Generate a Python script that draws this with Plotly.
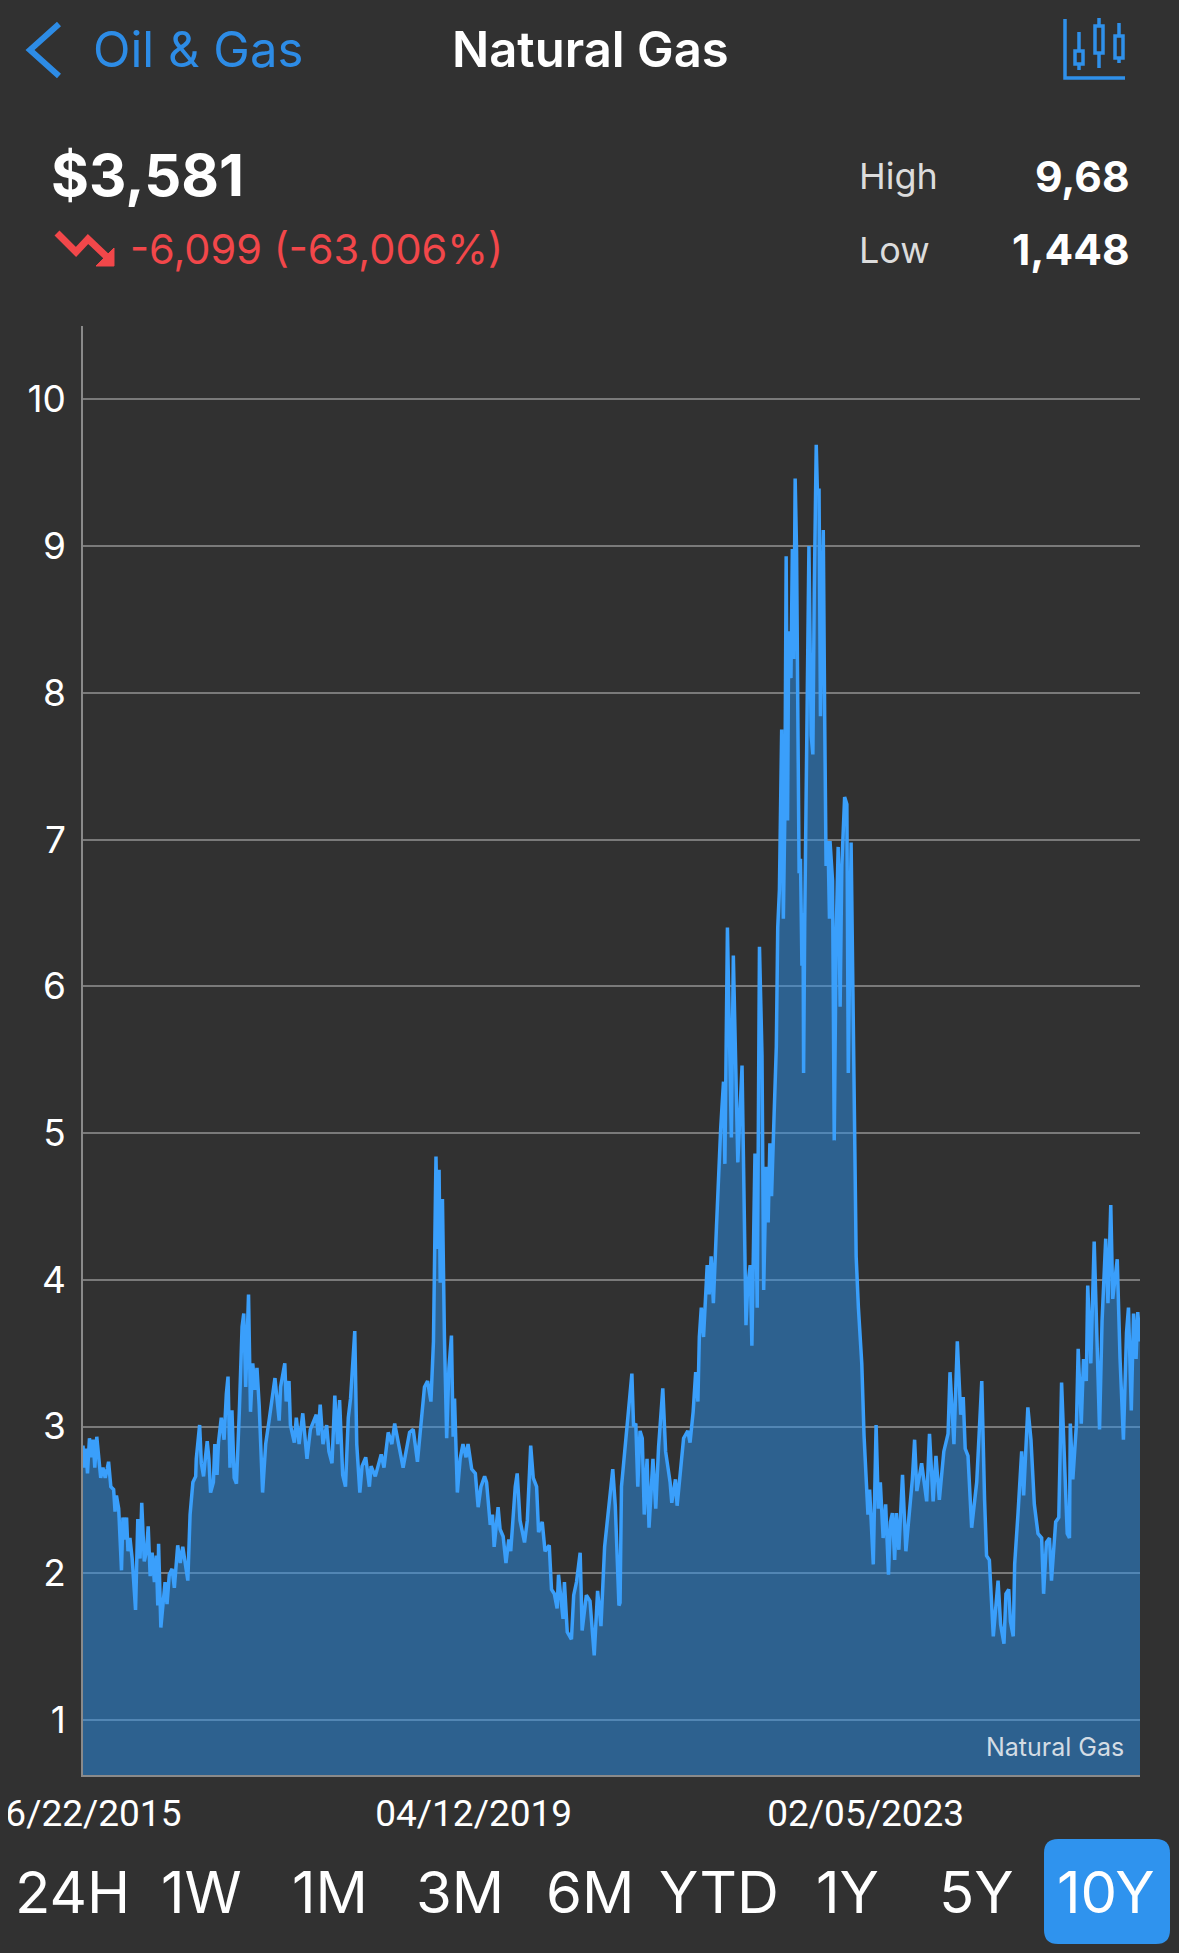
import datetime as dt
import plotly.graph_objects as go

START = dt.date(2015, 6, 22)
END_DAY = 3761

# Days since START and the price read at that day
days = [0,5,10,16,23,29,36,42,49,56,63,71,79,86,91,99,109,114,119,127,137,142,147,155,160,167,175,187,195,203,209,218,226,232,239,246,254,261,266,269,277,292,299,307,317,325,337,346,355,373,381,391,401,403,415,421,429,434,442,448,454,464,469,477,482,492,502,510,516,523,530,538,546,556,566,572,579,589,596,604,612,619,627,639,650,662,683,698,703,718,723,733,738,752,759,769,782,797,809,830,837,844,854,867,875,886,896,906,913,924,934,944,952,967,974,985,993,1006,1019,1025,1040,1061,1071,1086,1099,1109,1122,1139,1162,1175,1190,1205,1215,1226,1238,1247,1256,1261,1267,1271,1279,1286,1294,1302,1311,1317,1322,1332,1342,1352,1363,1370,1383,1396,1406,1416,1429,1436,1449,1457,1463,1477,1484,1495,1505,1515,1522,1538,1545,1555,1571,1581,1593,1602,1614,1621,1634,1644,1659,1667,1677,1687,1692,1708,1713,1723,1738,1746,1756,1769,1776,1791,1804,1819,1831,1843,1856,1885,1894,1907,
        1911,1916,1929,1939,1953,1959,1967,1974,1982,1990,1997,2007,2014,2028,2038,2048,2063,2073,2089,2095,2108,2114,2127,2137,2152,2160,2171,2180,2188,2193,2200,2208,2221,2228,2235,2243,2254,2261,2269,2279,2284,2293,2307,2314,2325,2330,2345,2353,2359,2365,2374,2380,2391,2399,2407,2416,2422,2431,2438,2444,2450,2459,2467,2472,2478,2486,2492,2497,2502,2507,2511,2519,2524,2529,2534,2539,2544,2548,2553,2558,2562,2564,2568,2573,2583,2591,2597,2602,2609,2613,2619,2624,2634,2639,2644,2651,2656,2658,2667,2673,2680,2687,2694,2700,2710,2718,2723,2733,2739,2742,2745,2748,2751,2759,2764,2771,2779,2786,2793,2799,2812,2822,2830,2837,2847,2856,2866,2873,2880,2888,2894,2903,2916,2928,2945,2951,2959,2967,2984,3002,3012,3025,3035,3047,3063,3078,3085,3099,3111,3123,3132,3139,3149,3162,3180,3198,3208,3215,3225,3239,3256,3265,3277,3284,3294,3300,3310,3315,3327,3340,3347,3362,3373,3385,3398,3411,3418,3428,3439,3446,3461,3472,3482,3494,3502,3510,3513,3522,3535,3541,3552,3560,3570,3575,3586,3598,3607,3617,3626,3639,3647,3657,3664,3680,3690,3702,3713,3720,3730,3738,3747,3753,3761]
prices = [2.87,2.72,2.85,2.68,2.92,2.79,2.91,2.72,2.93,2.75,2.65,2.72,2.65,2.71,2.76,2.59,2.57,2.42,2.53,2.44,2.02,2.38,2.23,2.38,2.15,2.24,2.10,1.75,2.37,2.10,2.48,2.08,2.15,2.32,1.98,2.14,1.94,2.12,1.78,2.20,1.63,1.94,1.79,1.99,2.03,1.90,2.19,2.07,2.18,1.95,2.40,2.62,2.66,2.78,3.01,2.75,2.66,2.76,2.90,2.78,2.55,2.62,2.88,2.67,2.89,3.06,2.91,3.22,3.34,2.72,3.11,2.65,2.61,3.09,3.68,3.77,3.27,3.90,3.10,3.43,3.25,3.40,3.14,2.55,2.88,3.04,3.33,3.04,3.27,3.43,3.17,3.31,3.01,2.89,3.06,2.88,3.09,2.78,2.98,3.08,2.94,3.15,2.88,3.01,2.83,2.75,3.21,2.88,3.18,2.67,2.59,3.06,3.19,3.65,2.88,2.55,2.73,2.79,2.59,2.73,2.66,2.81,2.72,2.96,2.88,3.02,2.88,2.72,2.96,2.98,2.76,3.08,3.27,3.31,3.17,3.58,4.84,4.21,4.75,3.98,4.55,3.61,2.92,3.40,3.62,2.93,3.19,2.55,2.78,2.88,2.79,2.88,2.71,2.68,2.45,2.59,2.66,2.62,2.33,2.40,2.18,2.45,2.30,2.25,2.07,2.23,2.15,2.59,2.68,2.36,2.21,2.36,2.87,2.65,2.59,2.28,2.35,2.15,2.19,1.89,1.86,1.76,1.99,1.69,1.94,1.60,1.55,1.85,1.94,2.14,1.61,1.85,1.81,1.44,1.88,1.64,2.18,2.71,2.46,1.78,
          1.80,2.59,2.85,3.02,3.36,3.00,3.02,2.59,2.97,2.92,2.40,2.78,2.31,2.78,2.44,2.86,3.26,2.83,2.62,2.48,2.64,2.46,2.75,2.92,2.97,2.89,3.10,3.37,3.17,3.61,3.81,3.61,4.10,3.90,4.16,3.84,4.36,4.71,5.03,5.35,4.79,6.40,4.97,6.21,5.18,4.80,5.46,4.19,3.69,3.95,4.10,3.55,4.86,3.81,6.27,5.53,3.93,4.77,4.39,4.93,4.57,5.12,5.59,6.40,6.66,7.75,6.46,7.13,8.93,7.13,8.42,8.10,8.98,8.23,9.46,8.96,7.55,6.77,6.87,6.14,6.50,5.41,6.43,7.47,9.00,7.71,7.58,8.70,9.69,9.38,9.38,7.84,9.11,7.84,6.82,6.99,6.46,6.99,6.72,4.95,6.35,6.95,5.86,6.82,7.29,7.24,5.41,6.98,6.14,5.32,4.97,4.54,4.16,3.81,3.66,3.43,2.94,2.62,2.40,2.57,2.06,3.01,2.44,2.62,2.24,2.47,1.99,2.35,2.41,2.09,2.41,2.16,2.67,2.15,2.47,2.64,2.91,2.56,2.75,2.49,2.95,2.49,2.80,2.50,2.83,2.95,3.37,2.88,3.58,3.08,3.20,2.85,2.80,2.31,2.62,3.31,2.50,2.12,2.09,1.57,1.95,1.65,1.52,1.86,1.89,1.67,1.57,2.06,2.41,2.83,2.53,3.13,2.91,2.47,2.27,2.24,1.86,2.21,2.24,1.95,2.35,2.38,3.30,2.73,2.27,2.24,3.02,2.64,3.02,3.53,3.02,3.46,3.31,3.96,3.43,4.26,3.66,2.98,3.72,4.28,3.84,4.51,3.87,4.14,3.46,2.91,3.64,3.81,3.11,3.77,3.46,3.78,3.58]

y_ticks = [1, 2, 3, 4, 5, 6, 7, 8, 9, 10]
x_tick_dates = [dt.date(2015, 6, 22), dt.date(2019, 4, 12), dt.date(2023, 2, 5)]
x_tick_labels = ["06/22/2015", "04/12/2019", "02/05/2023"]
period_labels = ["24H", "1W", "1M", "3M", "6M", "YTD", "1Y", "5Y", "10Y"]
period_centers = [72, 201, 330, 460, 590, 719, 847, 976, 1106]

W, H = 1179, 1953
BG = "#313131"
BLUE = "#2d8ce6"
ICON = "#2f90ea"
RED = "#f2474a"
FONT = "Inter"


def fx(x):
    return x / W


def fy(y):
    return 1 - y / H


def path(points, close=False):
    s = "M " + " L ".join(f"{fx(x):.5f},{fy(y):.5f}" for x, y in points)
    return s + (" Z" if close else "")


dates = [START + dt.timedelta(days=d) for d in days]

fig = go.Figure(go.Scatter(
    x=dates, y=prices, mode="lines",
    line=dict(color="#3a9ffb", width=3.5),
    fill="tozeroy", fillcolor="rgba(42,146,238,0.5)",
    hoverinfo="skip", showlegend=False,
))

texts = [
    ("Oil & Gas", 92, 50, "left", 49, BLUE, 400),
    ("Natural Gas", 590, 50, "center", 49, "#ffffff", 600),
    ("$3,581", 50, 175, "left", 58, "#ffffff", 700),
    ("-6,099 (-63,006%)", 129, 249, "left", 41.5, RED, 400),
    ("High", 858, 176, "left", 36, "#dcdcdc", 400),
    ("9,68", 1131, 176, "right", 42.5, "#ffffff", 700),
    ("Low", 858, 250, "left", 36, "#dcdcdc", 400),
    ("1,448", 1131, 250, "right", 42.5, "#ffffff", 700),
    ("Natural Gas", 1125, 1747, "right", 25, "#d3dce4", 400),
]
annotations = [
    dict(text=t, x=fx(x), y=fy(y), xref="paper", yref="paper", xanchor=a, yanchor="middle",
         showarrow=False, borderpad=0, font=dict(family=FONT, size=s, color=c, weight=w))
    for t, x, y, a, s, c, w in texts
]
annotations += [
    dict(text=t, x=fx(x), y=fy(1892), xref="paper", yref="paper", xanchor="center", yanchor="middle",
         showarrow=False, font=dict(family=FONT, size=58, color="#ffffff"))
    for t, x in zip(period_labels, period_centers)
]

shapes = []


def stroke(points, color=BLUE, width=3):
    shapes.append(dict(type="path", path=path(points), xref="paper", yref="paper", layer="above",
                       line=dict(color=color, width=width)))


def filled(points, color, line=None):
    shapes.append(dict(type="path", path=path(points, True), xref="paper", yref="paper", layer="above",
                       fillcolor=color, line=dict(color=line or color, width=1 if line is None else 3.5)))


# back chevron
stroke([(59, 24), (30, 50), (59, 76)], BLUE, 6)
# candle icon
stroke([(1065, 19), (1065, 78), (1125, 78)], ICON, 3.5)
for cx, w0, b0, b1, w1 in [(1079, 32, 51, 64, 70), (1099, 18, 26, 53, 68), (1119, 23, 36, 58, 63)]:
    stroke([(cx, w0), (cx, w1)], ICON, 3.5)
    filled([(cx - 4, b0), (cx + 4, b0), (cx + 4, b1), (cx - 4, b1)], BG, ICON)
# red down arrow
stroke([(57, 233), (76, 252), (88, 239), (107, 257)], RED, 7)
filled([(114, 266), (96, 266), (114, 248)], RED)
# clipped date label edge
shapes.append(dict(type="rect", x0=0, x1=fx(8), y0=fy(1836), y1=fy(1790), xref="paper", yref="paper",
                   layer="above", fillcolor=BG, line=dict(width=0)))
# selected period button
r = 14
x0, x1, y0, y1 = 1044, 1170, 1839, 1944
btn = (f"M {fx(x0+r):.5f},{fy(y0):.5f} L {fx(x1-r):.5f},{fy(y0):.5f} "
       f"Q {fx(x1):.5f},{fy(y0):.5f} {fx(x1):.5f},{fy(y0+r):.5f} L {fx(x1):.5f},{fy(y1-r):.5f} "
       f"Q {fx(x1):.5f},{fy(y1):.5f} {fx(x1-r):.5f},{fy(y1):.5f} L {fx(x0+r):.5f},{fy(y1):.5f} "
       f"Q {fx(x0):.5f},{fy(y1):.5f} {fx(x0):.5f},{fy(y1-r):.5f} L {fx(x0):.5f},{fy(y0+r):.5f} "
       f"Q {fx(x0):.5f},{fy(y0):.5f} {fx(x0+r):.5f},{fy(y0):.5f} Z")
shapes.append(dict(type="path", path=btn, xref="paper", yref="paper", layer="below",
                   fillcolor="#2f93ee", line=dict(width=0)))

fig.update_layout(
    width=W, height=H, autosize=False,
    margin=dict(l=0, r=0, t=0, b=0, pad=0),
    paper_bgcolor=BG, plot_bgcolor=BG,
    showlegend=False,
    font=dict(family=FONT, color="#ffffff"),
    annotations=annotations, shapes=shapes,
    xaxis=dict(
        domain=[fx(83), fx(1140)],
        type="date",
        range=[START, START + dt.timedelta(days=END_DAY)],
        tickmode="array", tickvals=x_tick_dates, ticktext=x_tick_labels,
        tickfont=dict(family="Roboto", size=37, color="#ffffff"),
        showgrid=False, zeroline=False, ticks="", automargin=False,
        showline=True, linecolor="#8a8a8a", linewidth=1.5,
        ticklabelstandoff=5, ticklabeloverflow="allow",
    ),
    yaxis=dict(
        domain=[fy(1775), fy(326)],
        range=[0.625, 10.5],
        tickmode="array", tickvals=y_ticks, ticktext=[str(v) for v in y_ticks],
        tickfont=dict(family=FONT, size=37, color="#ffffff"),
        showgrid=True, gridcolor="#7a7a7a", gridwidth=1.5,
        zeroline=False, ticks="", automargin=False,
        showline=True, linecolor="#8a8a8a", linewidth=1.5,
        ticklabelstandoff=8,
    ),
)

fig.write_html("out.html", config={"displayModeBar": False},
               post_script="document.body.style.margin='0';document.documentElement.style.background='" + BG + "';")
assert len(days) == len(prices)
